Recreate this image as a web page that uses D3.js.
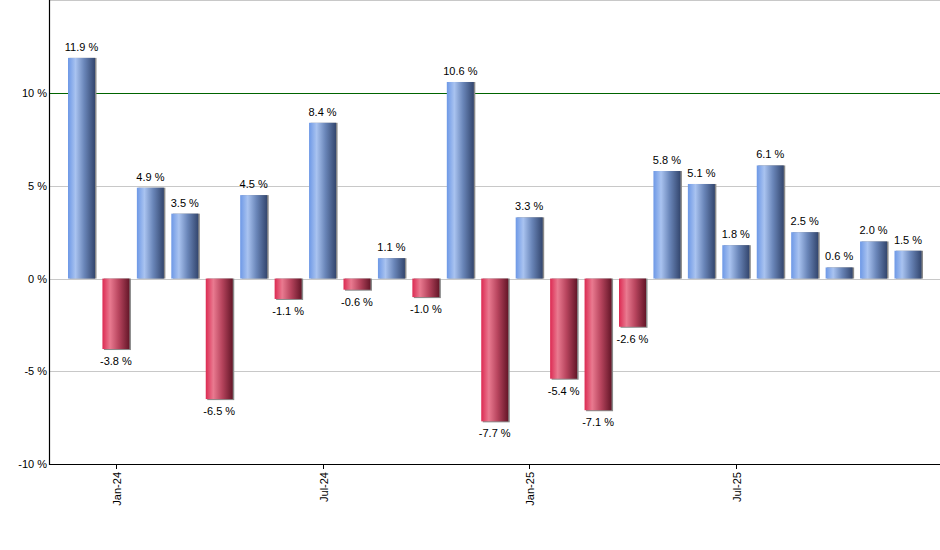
<!DOCTYPE html>
<html>
<head>
<meta charset="utf-8">
<script src="https://cdn.jsdelivr.net/npm/d3@7"></script>
<style>
  body { margin: 0; background: #fff; }
  text { font-family: "Liberation Sans", Arial, sans-serif; }
</style>
</head>
<body>
<div id="chart"></div>
<script>
// monthly returns, Dec-23 .. Dec-25
let months = ['Dec-23', 'Jan-24', 'Feb-24', 'Mar-24', 'Apr-24', 'May-24', 'Jun-24', 'Jul-24', 'Aug-24', 'Sep-24', 'Oct-24', 'Nov-24', 'Dec-24',
  'Jan-25', 'Feb-25', 'Mar-25', 'Apr-25', 'May-25', 'Jun-25', 'Jul-25', 'Aug-25', 'Sep-25', 'Oct-25', 'Nov-25', 'Dec-25'];
let returns = [11.9, -3.8, 4.9, 3.5, -6.5, 4.5, -1.1, 8.4, -0.6, 1.1, -1.0, 10.6, -7.7,
  3.3, -5.4, -7.1, -2.6, 5.8, 5.1, 1.8, 6.1, 2.5, 0.6, 2.0, 1.5];
let xTickLabels = ['Jan-24', 'Jul-24', 'Jan-25', 'Jul-25'];
let yTicks = [-10, -5, 0, 5, 10, 15];

let width = 940, height = 550;
let margin = {left: 49, right: 0, top: 0.4, bottom: 86};

let svg = d3.select('#chart').append('svg').attr('width', width).attr('height', height);

let defs = svg.append('defs');
let makeGrad = function(id, stops){
  let g = defs.append('linearGradient').attr('id', id)
    .attr('x1', '0%').attr('y1', '0%').attr('x2', '100%').attr('y2', '0%');
  stops.forEach(s => g.append('stop').attr('offset', s[0]).attr('stop-color', s[1]));
};
makeGrad('gradPos', [['0%', '#6d98e6'], ['28%', '#a9c3f0'], ['60%', '#6a86b9'], ['100%', '#33466e']]);
makeGrad('gradNeg', [['0%', '#dc2a52'], ['28%', '#e97a90'], ['60%', '#b8455e'], ['100%', '#641628']]);

let yScale = d3.scaleLinear().domain([-10, 15]).range([height - margin.bottom, margin.top]);
let xScale = d3.scaleLinear().domain([0, months.length - 1]).range([81.5, 908]);
let barWidth = 27;

// grid lines
svg.append('g').selectAll('line').data(yTicks.filter(d => d != -10)).enter().append('line')
  .attr('x1', margin.left).attr('x2', width)
  .attr('y1', d => Math.round(yScale(d)) + 0.5).attr('y2', d => Math.round(yScale(d)) + 0.5)
  .attr('stroke', d => d == 10 ? '#006400' : '#c8c8c8')
  .attr('stroke-width', 1);

// y tick labels
svg.append('g').selectAll('text').data(yTicks.filter(d => d != 15)).enter().append('text')
  .attr('x', margin.left - 2).attr('y', d => yScale(d) + 4)
  .attr('text-anchor', 'end').attr('font-size', 11).attr('fill', '#000')
  .text(d => d + ' %');

// bars
let bars = svg.append('g').selectAll('g').data(returns).enter().append('g');
bars.append('rect')
  .attr('x', (d, i) => xScale(i) - barWidth / 2 + 1.5)
  .attr('y', d => yScale(Math.max(d, 0)))
  .attr('width', barWidth)
  .attr('height', d => Math.abs(yScale(d) - yScale(0)) + (d < 0 ? 1 : 0))
  .attr('fill', '#8a8a8a');
bars.append('rect')
  .attr('x', (d, i) => xScale(i) - barWidth / 2)
  .attr('y', d => yScale(Math.max(d, 0)))
  .attr('width', barWidth)
  .attr('height', d => Math.abs(yScale(d) - yScale(0)))
  .attr('fill', d => d >= 0 ? 'url(#gradPos)' : 'url(#gradNeg)');

// value labels
bars.append('text')
  .attr('x', (d, i) => xScale(i))
  .attr('y', d => d >= 0 ? yScale(d) - 7 : yScale(d) + 16)
  .attr('text-anchor', 'middle').attr('font-size', 11).attr('fill', '#000')
  .text(d => d.toFixed(1) + ' %');

// axes lines
let y0 = yScale(-10);
svg.append('line').attr('x1', margin.left + 0.5).attr('x2', margin.left + 0.5)
  .attr('y1', 0).attr('y2', y0 + 1).attr('stroke', '#000').attr('stroke-width', 1.2);
svg.append('line').attr('x1', margin.left).attr('x2', width)
  .attr('y1', Math.round(y0) + 0.5).attr('y2', Math.round(y0) + 0.5)
  .attr('stroke', '#000').attr('stroke-width', 1.2);

// x ticks
let xt = svg.append('g').selectAll('g').data(xTickLabels).enter().append('g')
  .attr('transform', d => 'translate(' + [Math.round(xScale(months.indexOf(d))) + 0.5, Math.round(y0)] + ')');
xt.append('line').attr('y1', 0).attr('y2', 5).attr('stroke', '#000');
xt.append('text').attr('transform', 'translate(4,8) rotate(-90)')
  .attr('text-anchor', 'end').attr('font-size', 11).attr('fill', '#000')
  .text(d => d);
</script>
</body>
</html>
